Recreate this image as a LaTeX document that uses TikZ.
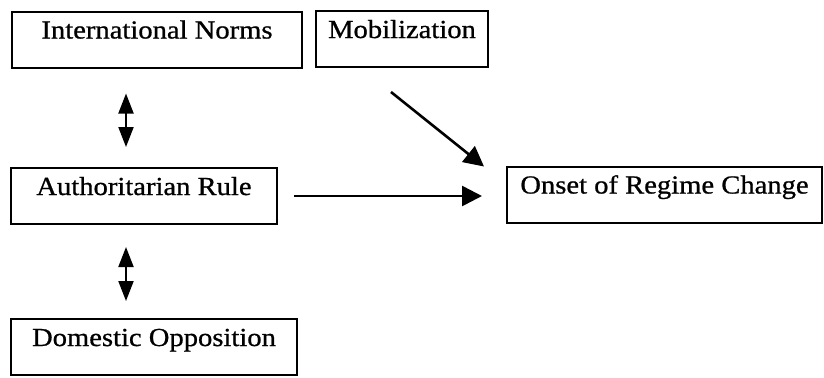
\documentclass[tikz,border=0pt]{standalone}
\usepackage{fontspec}
\setmainfont{Liberation Serif}[FakeStretch=1.1,FakeBold=0.8]
\usetikzlibrary{arrows.meta}
\begin{document}
\begin{tikzpicture}[x=0.5pt,y=-0.5pt,
box/.style={draw,line width=1pt,inner xsep=0pt,inner ysep=0pt,text height=13.5pt,text depth=14.5pt,font=\fontsize{13}{15}\selectfont},
twoway/.style={line width=1pt,{Triangle[length=10pt,width=7.5pt]}-{Triangle[length=10pt,width=7.5pt]}},
oneway/.style={line width=1.3pt,-{Triangle[length=10pt,width=10pt]}}]
\useasboundingbox (0,0) rectangle (824,377);
\pgfmathsetmacro{\ax}{126}
\node[box,minimum width=145pt](norms) at (157,39.5){International Norms};
\node[box,minimum width=86pt](mob) at (402,39){Mobilization};
\node[box,minimum width=133pt](rule) at (144,196){Authoritarian Rule};
\node[box,minimum width=157.5pt](onset) at (664.5,194.5){Onset of Regime Change};
\node[box,minimum width=143pt](opp) at (154,347){Domestic Opposition};
\coordinate(axis) at (\ax,0);
\draw[twoway,shorten <=12.5pt,shorten >=10pt](norms.south -| axis)--(rule.north -| axis);
\draw[twoway,shorten <=11pt,shorten >=8.5pt](rule.south -| axis)--(opp.north -| axis);
\draw[oneway,shorten <=8pt,shorten >=12pt](rule.east)--(rule.east -| onset.west);
\draw[oneway]([shift={(-11,24)}]mob.south)--([shift={(-22,1)}]onset.north west);
\end{tikzpicture}
\end{document}
